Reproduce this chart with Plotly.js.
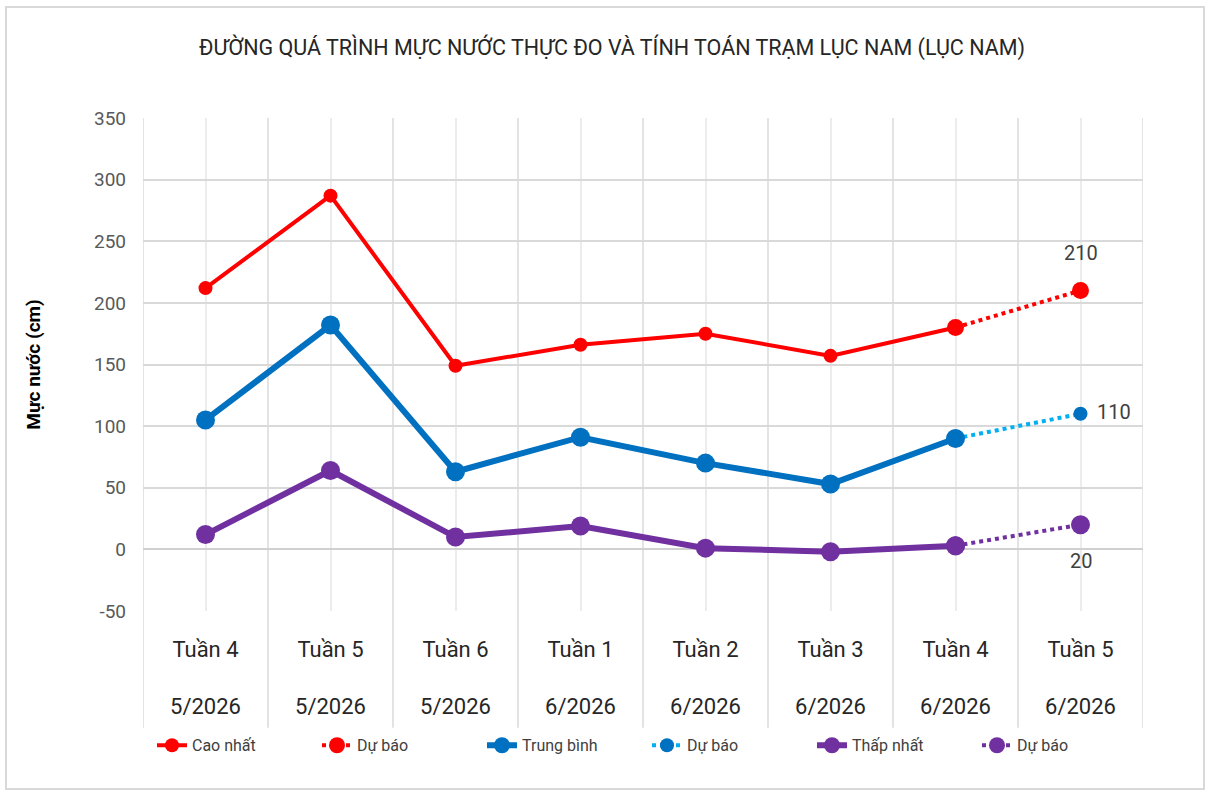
<!DOCTYPE html>
<html>
<head>
<meta charset="utf-8">
<script src="https://cdn.plot.ly/plotly-3.0.1.min.js"></script>
<style>
  html, body { margin: 0; padding: 0; background: #fff; }
  #wrap { position: relative; width: 1212px; height: 794px; }
  #frame { position: absolute; left: 5px; top: 6px; width: 1200px; height: 784px; border: 2px solid #d9d9d9; box-sizing: border-box; pointer-events: none; z-index: 5; }
  #chart { width: 1212px; height: 794px; }
</style>
</head>
<body>
<div id="wrap">
<div id="frame"></div>
<div id="chart"></div>
</div>
<script>
const weeks = ["Tuần 4", "Tuần 5", "Tuần 6", "Tuần 1", "Tuần 2", "Tuần 3", "Tuần 4", "Tuần 5"];
const months = ["5/2026", "5/2026", "5/2026", "6/2026", "6/2026", "6/2026", "6/2026", "6/2026"];
const categories = weeks.map((w, i) => w + " " + months[i] + "#" + i);
const tickLabels = weeks.map((w, i) => w + "<br><br>" + months[i]);
const yTicks = [-50, 0, 50, 100, 150, 200, 250, 300, 350];
const yTickLabels = yTicks.map(v => String(v));

const caoNhat    = [212, 287, 149, 166, 175, 157, 180, null];
const caoDuBao   = [null, null, null, null, null, null, 180, 210];
const trungBinh  = [105, 182, 63, 91, 70, 53, 90, null];
const tbDuBao    = [null, null, null, null, null, null, 90, 110];
const thapNhat   = [12, 64, 10, 19, 1, -2, 3, null];
const thapDuBao  = [null, null, null, null, null, null, 3, 20];

const FONT = "Roboto, 'Liberation Sans', sans-serif";

const fc = [
  { name: "Dự báo", x: categories, y: caoDuBao, mode: "lines+markers", legendrank: 2,
    line: { color: "#ff0000", width: 4, dash: "dot" }, marker: { color: "#ff0000", size: 17 } },
  { name: "Dự báo", x: categories, y: tbDuBao, mode: "lines+markers", legendrank: 4,
    line: { color: "#00b0f0", width: 4, dash: "dot" }, marker: { color: "#0070c0", size: 14 } },
  { name: "Dự báo", x: categories, y: thapDuBao, mode: "lines+markers", legendrank: 6,
    line: { color: "#7030a0", width: 4, dash: "dot" }, marker: { color: "#7030a0", size: 19 } }
];
const main = [
  { name: "Cao nhất", x: categories, y: caoNhat, mode: "lines+markers", legendrank: 1,
    line: { color: "#ff0000", width: 4 }, marker: { color: "#ff0000", size: 14 } },
  { name: "Trung bình", x: categories, y: trungBinh, mode: "lines+markers", legendrank: 3,
    line: { color: "#0070c0", width: 6 }, marker: { color: "#0070c0", size: 19 } },
  { name: "Thấp nhất", x: categories, y: thapNhat, mode: "lines+markers", legendrank: 5,
    line: { color: "#7030a0", width: 6 }, marker: { color: "#7030a0", size: 19 } }
];
const ordered = fc.concat(main);

const last = categories.length - 1;
const annotations = [
  { x: categories[last], y: caoDuBao[last], text: String(caoDuBao[last]), showarrow: false, yshift: 38, xshift: 0 },
  { x: categories[last], y: tbDuBao[last], text: String(tbDuBao[last]), showarrow: false, yshift: 2, xshift: 33 },
  { x: categories[last], y: thapDuBao[last], text: String(thapDuBao[last]), showarrow: false, yshift: -36, xshift: 0 }
].map(a => Object.assign(a, { font: { family: FONT, size: 20, color: "#404040" } }));

const shapes = [];
for (let i = 0; i <= categories.length; i++) {
  shapes.push({ type: "line", xref: "x", yref: "paper", x0: i - 0.5, x1: i - 0.5, y0: -0.237, y1: 1,
    line: { color: "#e3e3e3", width: 2 }, layer: "below" });
}

const layout = {
  width: 1212, height: 794,
  paper_bgcolor: "rgba(0,0,0,0)", plot_bgcolor: "#ffffff",
  margin: { l: 143, r: 69, t: 118, b: 183 },
  font: { family: FONT, color: "#404040" },
  title: { text: "ĐƯỜNG QUÁ TRÌNH MỰC NƯỚC THỰC ĐO VÀ TÍNH TOÁN TRẠM LỤC NAM (LỤC NAM)",
    font: { family: FONT, size: 21.5, color: "#262626" }, x: 0.505, xanchor: "center", y: 0.94, yanchor: "middle" },
  xaxis: {
    type: "category", categoryorder: "array", categoryarray: categories,
    tickvals: categories, ticktext: tickLabels, range: [-0.5, 7.5],
    showgrid: true, gridcolor: "#ececec", gridwidth: 2,
    showline: false, zeroline: false, ticks: "", ticklabelstandoff: 23,
    tickfont: { family: FONT, size: 22, color: "#262626" }, fixedrange: true
  },
  yaxis: {
    range: [-50, 350], tickvals: yTicks, ticktext: yTickLabels,
    showgrid: true, gridcolor: "#d9d9d9", gridwidth: 2,
    zeroline: true, zerolinecolor: "#d0d0d0", zerolinewidth: 2,
    showline: false, ticks: "", ticklabelstandoff: 16,
    tickfont: { family: FONT, size: 19, color: "#595959" },
    title: { text: "<b>Mực nước (cm)</b>", font: { family: FONT, size: 19, color: "#000" }, standoff: 48 },
    fixedrange: true
  },
  showlegend: true,
  legend: { orientation: "h", x: 0.504, xanchor: "center", y: -0.238, yanchor: "top",
    font: { family: FONT, size: 16, color: "#404040" }, entrywidth: 120, entrywidthmode: "pixels",
    traceorder: "normal", tracegroupgap: 0 },
  annotations: annotations,
  shapes: shapes
};

Plotly.newPlot("chart", ordered, layout, { displayModeBar: false, staticPlot: true });
</script>
</body>
</html>
